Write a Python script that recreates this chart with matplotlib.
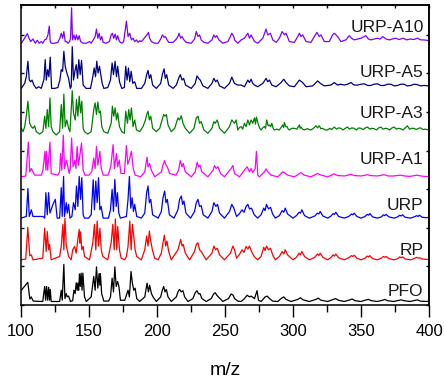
import numpy as np
import matplotlib.pyplot as plt

plt.rcParams['font.family'] = ['Liberation Sans', 'DejaVu Sans']

# spectra as (m/z, relative intensity %) vertices
pfo = [(100, 27), (105, 47), (106.5, 7), (107.5, 12), (109, 2), (116, 1), (117.4, 37), (118.1, 4),
       (118.8, 37), (119.6, 4), (120.3, 35), (121, 4), (121.5, 30), (122.2, 1), (128.4, 1), (129.6, 28),
       (130.3, 4), (131.5, 90), (132.3, 8), (133.3, 20), (134, 12), (135, 14), (136.4, 1), (138, 3),
       (138.9, 28), (139.8, 20), (140.6, 46), (141.3, 28), (141.8, 45), (142.4, 28), (143, 67), (143.6, 37),
       (144.2, 69), (144.9, 28), (145.5, 69), (146.7, 12), (148, 1), (151.6, 12), (153.5, 61), (154.5, 28),
       (155.5, 84), (156.5, 33), (157.4, 68), (158, 40), (158.4, 68), (159.3, 20), (160.9, 2), (164.5, 2),
       (165.8, 12), (167, 57), (168, 24), (169, 84), (170, 37), (171, 49), (172, 37), (173.1, 4), (176.3, 4),
       (177.5, 16), (178.7, 28), (179.7, 12), (180.9, 73), (181.9, 45), (182.9, 28), (183.9, 33), (185.1, 8),
       (187.3, 1), (191, 12), (192.7, 45), (193.7, 24), (194.6, 40), (195.9, 20), (197.1, 12), (199.5, 1),
       (202.7, 12), (203.9, 28), (204.9, 37), (205.9, 24), (206.9, 30), (208.1, 12), (210.5, 1), (214.2, 12),
       (215.4, 24), (216.6, 30), (217.9, 24), (219.1, 27), (220.3, 12), (222.8, 1), (226.4, 8), (228.1, 22),
       (229.4, 27), (230.6, 19), (231.6, 20), (233, 8), (236.2, 1), (239.9, 8), (241.6, 19), (242.8, 22),
       (244, 16), (245.2, 12), (248.4, 1), (252.6, 8), (254.5, 19), (256, 16), (257, 8), (259.4, 2),
       (261.9, 1), (264.3, 8), (266.3, 16), (268, 12), (269.2, 14), (271.7, 8), (273.6, 27), (274.6, 4),
       (276.6, 1), (279.5, 12), (281, 14), (282.7, 8), (285.1, 2), (288.8, 1), (291.2, 8), (293.2, 12),
       (294.9, 6), (298.6, 1), (303.5, 6), (305.4, 10), (307.4, 5), (312, 1), (316.9, 6), (318.6, 9),
       (320.6, 4), (325.5, 1), (329.6, 6), (331.3, 8), (333.3, 4), (337.7, 1), (342, 5), (343.5, 7),
       (345.5, 3), (350, 1), (354, 5), (355.5, 6), (357.5, 3), (362, 1), (366, 4), (367.5, 6), (369.5, 3),
       (374, 1), (378, 4), (379.5, 5), (381.5, 3), (386, 1), (390, 4), (391.5, 5), (393.5, 2), (398, 1),
       (400, 2)]

rp = [(100, 0), (103.5, 2), (105, 78), (106.4, 10), (107.6, 12), (108.8, 0), (116, 4), (117.4, 76),
      (118.5, 20), (119.3, 68), (120.3, 24), (121, 37), (122.2, 0), (128.4, 8), (129.6, 32), (130.8, 85),
      (131.5, 24), (132.3, 100), (133.3, 33), (134, 24), (135, 8), (136.9, 0), (138, 24), (139.4, 32),
      (140.6, 16), (141.8, 49), (142.8, 73), (143.3, 40), (143.8, 67), (144.7, 24), (145.7, 32), (146.7, 8),
      (150.4, 0), (152.8, 41), (154, 85), (155, 24), (156, 93), (157, 33), (158, 76), (159, 24), (160.1, 8),
      (163.8, 0), (166.3, 41), (167.5, 85), (168.5, 24), (169.4, 98), (170.4, 24), (171.1, 80), (172.4, 24),
      (173.6, 4), (176.3, 0), (177.5, 8), (178.7, 32), (180, 93), (181, 24), (181.9, 85), (182.9, 57),
      (183.9, 24), (185.1, 8), (188.5, 0), (191, 24), (192.4, 57), (193.4, 33), (194.4, 69), (195.4, 45),
      (196.6, 24), (198.3, 4), (200.8, 0), (203.2, 16), (204.4, 41), (205.4, 59), (206.4, 33), (207.3, 45),
      (208.6, 20), (210.5, 0), (215.4, 24), (216.4, 37), (217.4, 49), (218.4, 33), (219.3, 37), (220.8, 16),
      (224, 0), (227.6, 20), (228.9, 37), (230.1, 41), (231.3, 24), (232.5, 20), (236.2, 0), (240.4, 16),
      (241.8, 33), (243.1, 24), (244.3, 28), (246, 12), (249.6, 0), (254, 16), (255.8, 33), (257, 24),
      (258.5, 4), (260.5, 12), (262.5, 24), (264, 18), (265.5, 32), (266.8, 26), (268, 33), (269.5, 20),
      (271.5, 8), (274, 0), (276.5, 8), (278.5, 30), (279.5, 22), (280.5, 33), (282, 24), (283.5, 28),
      (285, 12), (287, 0), (290, 8), (292, 20), (293.2, 14), (294.3, 24), (296, 12), (300, 0), (302.5, 6),
      (304.5, 16), (305.5, 12), (306.5, 20), (308.5, 8), (312, 0), (316, 6), (318, 14), (319, 10), (320, 16),
      (322, 6), (325.5, 0), (328, 6), (329.5, 12), (330.5, 9), (331.5, 14), (333.5, 5), (337.7, 0), (341, 5),
      (343, 10), (344, 8), (345, 11), (347, 4), (350, 0), (353, 4), (354.5, 9), (355.5, 7), (356.5, 10),
      (358.5, 3), (362, 0), (365, 4), (366.5, 8), (367.5, 6), (368.5, 8), (370.5, 3), (374.4, 0), (377, 3),
      (378.5, 7), (379.5, 5), (380.5, 7), (382.5, 2), (386.6, 0), (389, 3), (391, 6), (392, 4), (393, 5),
      (395, 2), (398, 1), (400, 1)]

urp = [(100, 0), (103.9, 4), (105.1, 71), (106.1, 4), (107.6, 20), (108.8, 4), (116.1, 4), (117.4, 0),
       (118.3, 61), (119.3, 8), (120.3, 61), (121.3, 12), (123.5, 33), (125.2, 45), (126.6, 0), (128.4, 0),
       (129.6, 73), (130.3, 4), (131.3, 100), (132, 4), (133.3, 37), (134, 12), (135, 33), (136, 0),
       (137.4, 4), (138.6, 37), (139.9, 20), (140.8, 77), (141.8, 28), (142.8, 100), (143.8, 45), (144.7, 97),
       (145.7, 8), (146.7, 0), (149.6, 0), (151.6, 8), (153.1, 92), (154, 20), (155, 89), (156, 37), (157, 97),
       (158, 20), (158.9, 28), (160.4, 0), (164.3, 0), (165.8, 20), (167, 69), (168, 16), (169, 93), (170, 28),
       (170.9, 61), (171.9, 12), (173.1, 0), (177.5, 4), (178.7, 45), (179.7, 100), (180.7, 24), (181.7, 49),
       (182.7, 16), (183.6, 33), (185.1, 4), (188.5, 0), (191, 12), (192.4, 61), (193.4, 77), (194.4, 37),
       (195.4, 45), (196.8, 8), (200.8, 0), (203.2, 16), (204.4, 49), (205.6, 65), (206.6, 37), (207.6, 45),
       (209.1, 8), (212.5, 0), (215.4, 20), (216.6, 45), (217.9, 53), (218.8, 33), (219.8, 41), (221.3, 12),
       (224.7, 0), (227.6, 16), (228.9, 37), (230.1, 45), (231.3, 28), (232.5, 30), (234, 8), (237.4, 0),
       (240.4, 16), (241.8, 37), (243.3, 28), (244.5, 33), (246, 12), (249.6, 0), (253.3, 16), (255, 33),
       (256.5, 24), (258.5, 4), (260.5, 10), (262.5, 20), (264, 14), (265.5, 28), (266.8, 33), (268, 22),
       (269.5, 24), (271.5, 8), (274, 0), (276.5, 8), (278.5, 24), (279.5, 18), (280.5, 33), (282, 22),
       (283.5, 26), (285, 10), (287, 0), (290, 6), (292, 18), (293.2, 14), (294.3, 24), (296, 10), (300, 0),
       (302.5, 6), (304.5, 14), (305.5, 12), (306.5, 20), (308.5, 6), (312, 0), (316, 5), (318, 12), (319, 10),
       (320, 16), (322, 5), (325.5, 0), (328, 5), (329.5, 11), (330.5, 9), (331.5, 14), (333.5, 4), (337.7, 0),
       (341, 4), (343, 10), (344, 8), (345, 12), (347, 4), (350, 0), (353, 4), (354.5, 9), (355.5, 7),
       (356.5, 11), (358.5, 3), (362, 0), (365, 3), (366.5, 8), (367.5, 6), (368.5, 9), (370.5, 3),
       (374.4, 0), (377, 3), (378.5, 7), (379.5, 5), (380.5, 8), (382.5, 2), (386.6, 0), (389, 3), (391, 6),
       (392, 4), (393, 7), (395, 2), (398, 1), (400, 2)]

urp_a1 = [(100, 0), (103.5, 2), (105.4, 83), (106.4, 12), (107.6, 20), (108.8, 12), (110, 4), (115, 4),
          (116.1, 16), (117.6, 61), (118.3, 16), (118.8, 61), (119.6, 16), (121.3, 83), (122.2, 8), (127, 4),
          (128.4, 12), (129.1, 56), (130, 16), (131.1, 100), (132, 20), (133.3, 40), (134.5, 24), (135.5, 8),
          (136.2, 20), (137.2, 93), (138.3, 24), (139.5, 40), (140.4, 20), (141.3, 73), (142.3, 28),
          (143.2, 50), (144.5, 81), (145.7, 16), (147, 4), (150, 4), (152, 12), (153.5, 45), (154.5, 20),
          (155.5, 73), (156.5, 28), (158, 61), (159, 20), (160.5, 4), (164, 4), (166, 24), (167.7, 77),
          (168.7, 20), (170.2, 56), (171, 24), (172.2, 40), (173.5, 8), (176, 8), (177.5, 75), (178.5, 30),
          (180, 45), (181.2, 61), (182.5, 20), (184, 4), (188, 0), (191, 12), (192.7, 47), (193.4, 24),
          (194.5, 32), (195.8, 16), (198.3, 0), (203.2, 12), (204.4, 28), (205.6, 39), (206.6, 28),
          (207.6, 24), (209.3, 8), (214, 4), (215.9, 16), (217.1, 39), (218.4, 24), (219.3, 32), (220.8, 12),
          (225.2, 0), (228.1, 12), (229.6, 35), (230.6, 24), (231.6, 28), (233, 12), (237.4, 0), (241.1, 15),
          (242.3, 27), (243.5, 20), (244.8, 24), (246.7, 8), (249.6, 0), (254.5, 20), (255.8, 27), (257, 8),
          (260.7, 0), (264.3, 16), (266.3, 24), (268, 12), (269.2, 20), (270.4, 10), (272.2, 20), (273.1, 61),
          (274.1, 4), (275.3, 0), (279, 12), (280.2, 19), (281.4, 12), (283.9, 4), (288.8, 0), (292.5, 12),
          (293.7, 10), (296.1, 4), (301, 0), (305.9, 10), (308.3, 4), (313.2, 0), (318.1, 8), (320.6, 4),
          (325.5, 0), (330.3, 7), (332.8, 3), (338, 2), (342.6, 6), (345, 3), (350, 2), (354.8, 5), (357, 3),
          (362, 2), (367, 5), (370, 2), (374, 2), (379, 4), (382, 2), (386, 1), (391, 4), (394, 2), (400, 0)]

urp_a3 = [(100.2, 8), (101.5, 0), (102.7, 12), (103.9, 37), (105.1, 73), (106.4, 20), (107.6, 12),
          (108.8, 8), (110, 14), (111.2, 0), (113.7, -6), (116.1, 0), (117.4, 37), (118.3, 8), (119.3, 53),
          (120.3, 12), (121.3, 81), (122.2, 12), (123.5, 0), (125.9, -8), (128.4, 0), (129.6, 65), (130.6, 8),
          (131.5, 90), (132.5, 12), (133.7, 28), (135, 8), (136, 0), (136.9, 53), (137.7, 98), (138.6, 45),
          (139.9, 28), (140.8, 77), (141.8, 37), (142.8, 85), (143.8, 45), (144.7, 73), (145.7, 8), (146.7, 0),
          (149.1, -6), (151.6, 0), (153.5, 53), (154.5, 69), (155.5, 41), (156.5, 71), (157.5, 45), (158.4, 49),
          (159.4, 12), (160.9, 0), (163.8, -4), (166.3, 20), (167.2, 61), (168.2, 37), (169.2, 57), (170.2, 28),
          (171.1, 45), (172.4, 12), (174.1, 0), (176, -4), (177, 49), (178.3, 20), (179.2, 53), (180.2, 28),
          (181.2, 57), (182.4, 12), (183.6, 28), (184.9, 4), (187.3, 0), (189.7, 12), (191.5, 28), (192.4, 41),
          (193.4, 49), (194.4, 28), (195.4, 37), (196.8, 8), (199.5, 0), (202, 8), (203.7, 28), (204.9, 41),
          (205.9, 37), (206.9, 41), (208.1, 16), (210.5, 0), (213, 8), (215.4, 33), (216.6, 28), (217.9, 38),
          (219.1, 20), (220.8, 8), (224, -4), (227.2, 8), (228.9, 33), (230.1, 37), (231.3, 20), (232.5, 24),
          (234.5, 4), (237.4, -4), (240.4, 8), (241.8, 24), (242.8, 20), (244.3, 28), (246, 8), (249.6, -4),
          (253.3, 12), (255, 28), (257, 20), (258.2, 28), (259.4, 4), (260.6, 10), (261.9, 12), (263, 6),
          (264.3, 20), (265.5, 12), (266.8, 28), (268, 16), (269.2, 28), (270.4, 20), (271.7, 33), (272.4, 18),
          (273.1, 35), (274.6, 16), (275.6, 8), (276.6, 4), (278, 10), (279, 12), (279.8, 8), (280.7, 28),
          (281.7, 14), (282.7, 16), (283.5, 12), (284.4, 20), (285.4, 8), (286.3, 4), (288, 6), (290, 4),
          (291.2, 10), (292.5, 16), (293.1, 10), (293.7, 22), (294.6, 12), (295.6, 12), (296.5, 6),
          (297.3, 4), (299, 8), (301, 8), (302.8, 6), (304.7, 16), (305.3, 8), (305.9, 11), (307, 6),
          (308.3, 4), (310.5, 7), (313.2, 4), (315, 8), (316.9, 14), (318, 9), (319.3, 14), (320.5, 7),
          (321.8, 8), (323.5, 4), (325.5, 4), (327, 8), (328.5, 5), (330.3, 11), (332, 6), (333.5, 9),
          (335.2, 8), (336.8, 4), (338.4, 8), (340.1, 11), (341.5, 6), (343.2, 9), (345, 8), (346.6, 4),
          (348.3, 9), (349.9, 8), (351.5, 5), (353.2, 9), (354.8, 11), (356.4, 6), (358, 8), (359.7, 7),
          (361.3, 4), (363, 9), (364.6, 11), (366.2, 6), (367.9, 8), (369.5, 7), (371.1, 4), (372.8, 9),
          (374.4, 11), (376, 6), (377.6, 8), (379.2, 7), (380.9, 4), (382.5, 9), (384.1, 14), (385.7, 6),
          (387.4, 8), (389, 8), (390.6, 5), (392.3, 8), (393.9, 9), (395.5, 5), (397.2, 6), (400, 4)]

urp_a5 = [(100.2, 0), (102.7, 12), (103.9, 28), (105.1, 65), (106.1, 20), (107.1, 16), (108.1, 20),
          (109.5, 8), (111.2, 0), (113, 4), (114.9, 0), (116.9, 22), (117.8, 69), (118.6, 20), (119.6, 45),
          (120.5, 28), (121.5, 75), (122.5, 0), (124.7, 0), (127.1, 2), (128.6, 20), (129.6, 45), (130.6, 41),
          (131.5, 89), (132.5, 53), (133.7, 37), (135, 24), (136.2, 0), (136.9, 4), (137.7, 100), (138.6, 20),
          (139.6, 41), (140.6, 57), (141.6, 24), (142.5, 69), (143.5, 33), (144.5, 67), (145.7, 8), (147.9, 0),
          (151.1, 0), (152.8, 28), (153.8, 49), (154.8, 28), (155.7, 65), (156.7, 37), (157.7, 53), (158.7, 33),
          (159.7, 12), (160.9, 0), (163.8, 2), (165.8, 20), (167, 61), (168, 33), (169.2, 65), (170.2, 28),
          (171.1, 53), (172.4, 16), (174.1, 0), (176, 2), (177, 53), (178, 20), (179, 49), (180, 16), (181, 41),
          (182.2, 12), (183.6, 16), (185.1, 0), (188.5, 0), (191, 12), (192.4, 33), (193.4, 43), (194.4, 24),
          (195.4, 33), (196.8, 8), (199.5, 0), (202.7, 12), (203.9, 33), (205.2, 47), (206.1, 24), (207.1, 33),
          (208.6, 8), (211.8, 0), (214.2, 8), (215.9, 24), (217.1, 33), (218.4, 20), (219.6, 24), (221, 8),
          (225.2, 0), (228.1, 12), (229.4, 30), (230.6, 24), (231.8, 20), (233.8, 6), (237.4, 0), (240.4, 12),
          (241.8, 24), (243.1, 16), (244.3, 20), (246, 6), (249.6, 0), (253.3, 12), (255, 27), (257, 12),
          (259.4, 8), (261.9, 8), (264.3, 4), (266.8, 20), (268, 14), (269.2, 22), (270.4, 12), (271.7, 8),
          (274.1, 4), (277.8, 12), (280.2, 24), (281.4, 16), (282.7, 20), (284.4, 8), (287.6, 4), (291.2, 14),
          (293.2, 22), (294.9, 14), (297.3, 6), (301, 4), (304.7, 20), (307.1, 14), (309.6, 4), (314.5, 6),
          (318.1, 18), (320.1, 12), (323, 6), (327.9, 8), (330.3, 14), (332.8, 8), (335, 10), (337.7, 8),
          (340, 10), (342.6, 14), (345, 8), (347.5, 8), (350, 10), (352.4, 11), (355, 7), (357.2, 7),
          (359.5, 10), (362.1, 11), (364.5, 7), (367, 7), (369.5, 10), (371.9, 10), (374.5, 6), (376.8, 7),
          (379.2, 10), (381.7, 10), (384, 6), (386.6, 7), (389, 10), (391.5, 9), (394, 6), (396.4, 7),
          (400, 6)]

urp_a10 = [(100.2, 0), (102.7, 12), (104.6, 23), (105.9, 12), (107.1, 4), (108.8, 10), (110.5, 0), (112, 7),
           (113.4, 0), (114.9, 4), (116.1, 0), (117.4, 8), (118.6, 10), (119.8, 20), (120.8, 41), (121.5, 4),
           (122.2, 0), (124.7, 0), (127.1, 2), (128.6, 12), (129.6, 24), (130.6, 12), (131.5, 28), (132.5, 4),
           (133.5, 4), (134.5, 0), (135.7, 4), (136.4, 12), (137.2, 85), (137.9, 8), (138.9, 20), (139.9, 8),
           (140.8, 20), (141.8, 8), (142.8, 18), (143.8, 4), (145.5, 0), (147.9, 0), (150.4, 4), (151.6, 0),
           (153.5, 10), (154.5, 16), (155.5, 34), (156.5, 12), (157.5, 24), (158.4, 8), (159.4, 16), (160.4, 2),
           (162.6, 0), (165, 4), (166.3, 20), (167.2, 24), (168.2, 12), (169.2, 22), (170.2, 8), (171.1, 18),
           (172.4, 4), (174.1, 0), (175.5, 4), (177.5, 53), (178.7, 16), (179.9, 24), (181.2, 8), (182.4, 12),
           (183.6, 4), (184.9, 8), (186.1, 2), (187.3, 6), (188.5, 4), (189.7, 8), (191.5, 16), (192.7, 20),
           (193.7, 26), (194.6, 12), (195.9, 4), (198.3, 0), (200.8, 0), (202.7, 10), (203.9, 20), (205.2, 14),
           (206.1, 16), (207.1, 10), (208.6, 2), (211.8, 2), (214.2, 10), (215.4, 16), (216.2, 24), (217.4, 12),
           (218.4, 16), (219.8, 8), (221.5, 2), (225.2, 0), (227.6, 10), (228.9, 28), (230.1, 16), (231.3, 20),
           (232.5, 8), (234.5, 2), (237.4, 0), (240.4, 8), (241.8, 20), (242.8, 14), (244, 18), (245.5, 8),
           (248.4, 0), (252.1, 4), (254, 16), (255, 24), (256.5, 16), (257, 8), (259.4, 0), (261.9, 8),
           (264.3, 12), (266.8, 24), (268, 12), (269.2, 20), (271.7, 4), (274.1, 0), (277.8, 12), (280.2, 34),
           (281.4, 20), (283.4, 24), (285.1, 8), (287.6, 2), (290, 12), (292, 28), (293.7, 20), (294.9, 24),
           (297.3, 4), (301, 2), (303.5, 16), (304.7, 24), (305.9, 16), (307.1, 20), (309.6, 4), (313.2, 2),
           (315.7, 16), (317.6, 26), (319.3, 16), (320.6, 20), (323, 4), (326.7, 4), (329.1, 20), (330.3, 24),
           (332.8, 16), (335.2, 4), (338.9, 8), (341.3, 18), (343, 12), (345, 8), (347.5, 10), (350, 12),
           (353.6, 18), (355.5, 10), (357.2, 8), (359.5, 10), (362.1, 12), (364, 10), (366, 16), (368.5, 10),
           (371, 8), (373, 10), (375.5, 12), (378, 9), (381, 12), (383.5, 8), (386, 10), (389, 9), (391.5, 12),
           (394, 8), (396.4, 8), (400, 6)]

names = ['PFO', 'RP', 'URP', 'URP-A1', 'URP-A3', 'URP-A5', 'URP-A10']
spectra = [pfo, rp, urp, urp_a1, urp_a3, urp_a5, urp_a10]
colors = ['black', '#ff0000', '#0000ff', '#ff00ff', '#008000', '#000080', '#8000ff']
offsets = [0.08, 1.17, 2.25, 3.32, 4.49, 5.61, 6.78]
label_y = [0.34, 1.41, 2.57, 3.76, 4.95, 6.01, 7.2]
scale = 1.08 / 100

fig = plt.figure(figsize=(4.44, 3.80), dpi=100)
ax = fig.add_axes([21 / 444, 75 / 380, 408 / 444, 300 / 380])

for name, spec, col, off, ly in zip(names, spectra, colors, offsets, label_y):
    arr = np.array(spec, dtype=float)
    ax.plot(arr[:, 0], off + arr[:, 1] * scale, color=col, lw=0.9)
    ax.text(396, ly, name, ha='right', va='center', fontsize=12.5, color='#1a1a1a')

ax.set_xlim(100, 400)
ax.set_ylim(0, 7.77)
ax.set_xticks(np.arange(100, 401, 50))
ax.set_xticks(np.arange(125, 400, 50), minor=True)
ax.set_yticks(np.arange(0, 8, 1))
ax.tick_params(axis='x', which='major', direction='out', length=8.5, width=1, labelsize=12, pad=5.5)
ax.tick_params(axis='x', which='minor', direction='out', length=4.8, width=1)
ax.tick_params(axis='y', direction='in', length=2.5, width=1, labelleft=False)
ax.set_xlabel('m/z', fontsize=14, labelpad=16.5)

top = ax.secondary_xaxis('top')
top.set_xticks(np.arange(100, 401, 25))
top.tick_params(direction='in', length=2.5, width=1, labeltop=False)
right = ax.secondary_yaxis('right')
right.set_yticks(np.arange(0, 8, 1))
right.tick_params(direction='in', length=2.5, width=1, labelright=False)

for a in (ax, top, right):
    for s in a.spines.values():
        s.set_linewidth(1.1)

fig.savefig('out.png', dpi=100)
